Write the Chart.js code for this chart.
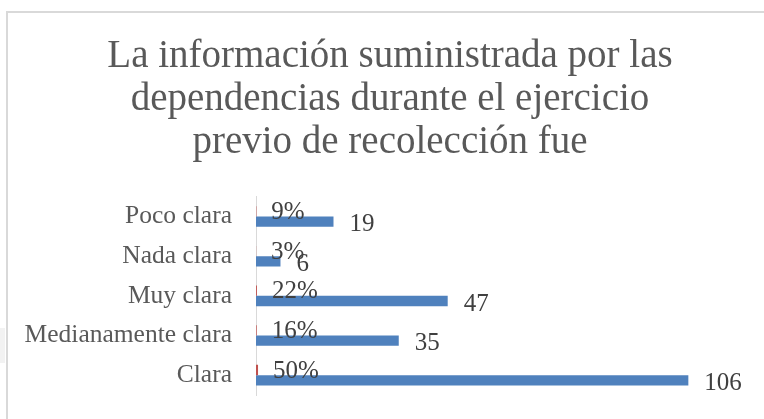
<!DOCTYPE html>
<html>
<head>
<meta charset="utf-8">
<script src="https://cdn.jsdelivr.net/npm/chart.js@4"></script>
<style>
  html, body { margin: 0; padding: 0; background: #fff; overflow: hidden; }
  #wrap { position: relative; width: 764px; height: 419px; overflow: hidden; }
  #frame { position: absolute; left: 6px; top: 11px; width: 800px; height: 450px;
           border-left: 2px solid #d9d9d9; border-top: 2px solid #d9d9d9; }
  #edge { position: absolute; left: 0; top: 328px; width: 5px; height: 35px; background: #f2f2f2; }
  canvas { position: absolute; left: 0; top: 0; }
</style>
</head>
<body>
<div id="wrap">
  <div id="frame"></div>
  <div id="edge"></div>
  <canvas id="chart" width="794" height="419"></canvas>
</div>
<script>
const categories = ['Poco clara', 'Nada clara', 'Muy clara', 'Medianamente clara', 'Clara'];
const shares = [0.09, 0.03, 0.22, 0.16, 0.50];
const counts = [19, 6, 47, 35, 106];
const xMax = 127;

const serif = "'Liberation Serif', 'DejaVu Serif', serif";

// etiquetas de datos a la derecha de cada barra
const barLabels = {
  id: 'barLabels',
  afterDatasetsDraw(chart) {
    const ctx = chart.ctx;
    ctx.save();
    ctx.font = '25px ' + serif;
    ctx.textAlign = 'left';
    ctx.textBaseline = 'middle';
    chart.data.datasets.forEach((ds, i) => {
      chart.getDatasetMeta(i).data.forEach((bar, j) => {
        const v = ds.data[j];
        ctx.fillStyle = '#404040';
        if (i === 0) {
          ctx.fillText(Math.round(v * 100) + '%', bar.x + 15, bar.y + 1);
        } else {
          ctx.fillText(String(v), bar.x + 16, bar.y + 3);
        }
      });
    });
    ctx.restore();
  }
};

new Chart(document.getElementById('chart').getContext('2d'), {
  type: 'bar',
  data: {
    labels: categories,
    datasets: [
      { label: 'Porcentaje', data: shares, backgroundColor: '#c0504d' },
      { label: 'Cantidad', data: counts, backgroundColor: '#4f81bd' }
    ]
  },
  options: {
    indexAxis: 'y',
    responsive: false,
    animation: false,
    categoryPercentage: 0.52,
    barPercentage: 1,
    layout: { padding: { left: 6, right: 20, top: 0, bottom: 24 } },
    plugins: {
      legend: { display: false },
      tooltip: { enabled: false },
      title: {
        display: true,
        text: ['La información suministrada por las', 'dependencias durante el ejercicio', 'previo de recolección fue'],
        color: '#595959',
        font: { family: serif, size: 39, weight: 'normal', lineHeight: 1.1 },
        padding: { top: 35, bottom: 33 }
      }
    },
    scales: {
      x: { display: false, min: 0, max: xMax },
      y: {
        grid: { display: false },
        border: { display: true, color: '#d9d9d9' },
        ticks: { color: '#595959', font: { family: serif, size: 25.5 }, padding: 16 },
        afterFit(scale) {
          scale.width = 250;
          scale.paddingTop = 0;
          scale.paddingBottom = 0;
        }
      }
    }
  },
  plugins: [barLabels]
});
</script>
</body>
</html>
